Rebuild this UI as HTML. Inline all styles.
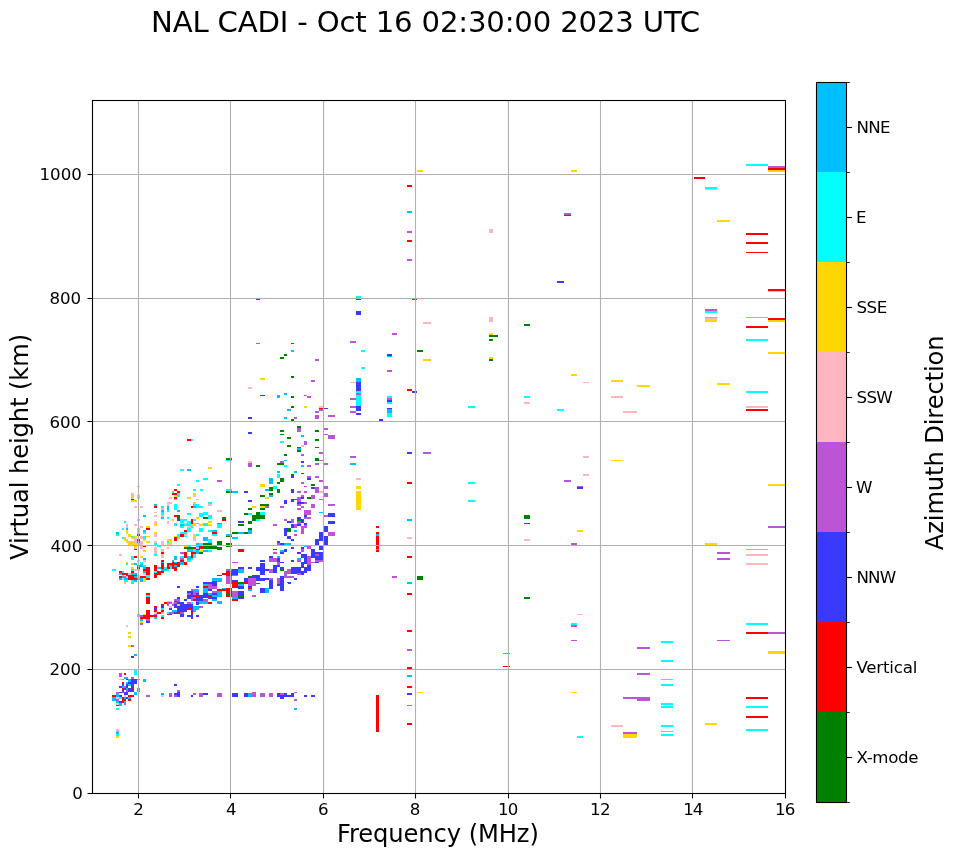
<!DOCTYPE html>
<html lang="en"><head><meta charset="utf-8"><title>NAL CADI - Oct 16 02:30:00 2023 UTC</title>
<style>html,body{margin:0;padding:0;background:#fff;overflow:hidden}svg{display:block}.g{fill:#008000}.r{fill:#ff0000}.b{fill:#3a3aff}.m{fill:#ba55d3}.p{fill:#ffb6c1}.y{fill:#ffd700}.c{fill:#00ffff}.d{fill:#00bfff}text{font-family:"DejaVu Sans","Liberation Sans",sans-serif;fill:#000}</style></head><body>
<svg width="958" height="857" viewBox="0 0 958 857">
<rect width="958" height="857" fill="#fff"/>
<g shape-rendering="crispEdges">
<rect class="c" x="746" y="164" width="22" height="2"/>
<rect class="r" x="746" y="233" width="22" height="2"/>
<rect class="r" x="746" y="242" width="22" height="2"/>
<rect class="r" x="746" y="252" width="22" height="1"/>
<rect class="c" x="746" y="317" width="22" height="1"/>
<rect class="r" x="746" y="326" width="22" height="2"/>
<rect class="c" x="746" y="339" width="22" height="2"/>
<rect class="c" x="746" y="391" width="22" height="2"/>
<rect class="p" x="746" y="406" width="22" height="2"/>
<rect class="r" x="746" y="409" width="22" height="2"/>
<rect class="c" x="746" y="549" width="22" height="1"/>
<rect class="p" x="746" y="554" width="22" height="2"/>
<rect class="p" x="746" y="563" width="22" height="2"/>
<rect class="c" x="746" y="623" width="22" height="2"/>
<rect class="r" x="746" y="632" width="22" height="2"/>
<rect class="r" x="746" y="697" width="22" height="2"/>
<rect class="c" x="746" y="706" width="22" height="2"/>
<rect class="r" x="746" y="716" width="22" height="2"/>
<rect class="c" x="746" y="729" width="22" height="2"/>
<rect class="m" x="768" y="166" width="18" height="2"/>
<rect class="r" x="768" y="168" width="18" height="2"/>
<rect class="y" x="768" y="170" width="18" height="2"/>
<rect class="r" x="768" y="289" width="18" height="2"/>
<rect class="y" x="768" y="291" width="18" height="1"/>
<rect class="r" x="768" y="318" width="18" height="2"/>
<rect class="y" x="768" y="320" width="18" height="2"/>
<rect class="y" x="768" y="352" width="18" height="2"/>
<rect class="y" x="768" y="484" width="18" height="2"/>
<rect class="m" x="768" y="526" width="18" height="2"/>
<rect class="m" x="768" y="632" width="18" height="2"/>
<rect class="y" x="768" y="651" width="18" height="3"/>
<rect class="r" x="694" y="177" width="11" height="2"/>
<rect class="c" x="705" y="187" width="12" height="2"/>
<rect class="p" x="705" y="189" width="12" height="1"/>
<rect class="m" x="705" y="309" width="12" height="2"/>
<rect class="c" x="705" y="311" width="12" height="2"/>
<rect class="c" x="705" y="317" width="12" height="1"/>
<rect class="p" x="705" y="318" width="12" height="2"/>
<rect class="y" x="705" y="320" width="12" height="2"/>
<rect class="y" x="705" y="543" width="12" height="2"/>
<rect class="y" x="705" y="723" width="12" height="2"/>
<rect class="y" x="717" y="220" width="13" height="2"/>
<rect class="y" x="717" y="383" width="13" height="2"/>
<rect class="m" x="717" y="552" width="13" height="2"/>
<rect class="m" x="717" y="558" width="13" height="2"/>
<rect class="m" x="717" y="640" width="13" height="1"/>
<rect class="y" x="637" y="385" width="13" height="2"/>
<rect class="m" x="637" y="647" width="13" height="2"/>
<rect class="m" x="637" y="673" width="13" height="2"/>
<rect class="m" x="637" y="697" width="13" height="4"/>
<rect class="c" x="661" y="641" width="12" height="2"/>
<rect class="c" x="661" y="660" width="12" height="2"/>
<rect class="c" x="661" y="679" width="12" height="1"/>
<rect class="c" x="661" y="684" width="12" height="2"/>
<rect class="c" x="661" y="703" width="12" height="2"/>
<rect class="c" x="661" y="706" width="12" height="2"/>
<rect class="c" x="661" y="725" width="12" height="2"/>
<rect class="c" x="661" y="731" width="12" height="1"/>
<rect class="c" x="661" y="734" width="12" height="2"/>
<rect class="y" x="571" y="170" width="6" height="2"/>
<rect class="y" x="571" y="374" width="6" height="2"/>
<rect class="m" x="571" y="543" width="6" height="2"/>
<rect class="c" x="571" y="623" width="6" height="2"/>
<rect class="m" x="571" y="625" width="6" height="2"/>
<rect class="m" x="571" y="640" width="6" height="1"/>
<rect class="y" x="571" y="692" width="6" height="1"/>
<rect class="m" x="564" y="213" width="7" height="2"/>
<rect class="r" x="564" y="215" width="7" height="1"/>
<rect class="m" x="564" y="480" width="7" height="2"/>
<rect class="b" x="557" y="281" width="7" height="2"/>
<rect class="c" x="557" y="409" width="7" height="2"/>
<rect class="g" x="524" y="324" width="6" height="2"/>
<rect class="c" x="524" y="396" width="6" height="2"/>
<rect class="p" x="524" y="402" width="6" height="2"/>
<rect class="g" x="524" y="515" width="6" height="4"/>
<rect class="g" x="524" y="523" width="6" height="1"/>
<rect class="p" x="524" y="539" width="6" height="2"/>
<rect class="g" x="524" y="597" width="6" height="2"/>
<rect class="p" x="583" y="382" width="6" height="1"/>
<rect class="p" x="583" y="456" width="6" height="2"/>
<rect class="p" x="583" y="474" width="6" height="2"/>
<rect class="y" x="611" y="380" width="12" height="2"/>
<rect class="p" x="611" y="396" width="12" height="2"/>
<rect class="y" x="611" y="460" width="12" height="1"/>
<rect class="p" x="611" y="725" width="12" height="2"/>
<rect class="p" x="623" y="411" width="14" height="2"/>
<rect class="m" x="623" y="697" width="14" height="2"/>
<rect class="m" x="623" y="732" width="14" height="2"/>
<rect class="y" x="623" y="734" width="14" height="4"/>
<rect class="m" x="577" y="486" width="6" height="1"/>
<rect class="b" x="577" y="487" width="6" height="2"/>
<rect class="y" x="577" y="530" width="6" height="2"/>
<rect class="p" x="577" y="614" width="6" height="1"/>
<rect class="c" x="577" y="736" width="6" height="2"/>
<rect class="d" x="503" y="653" width="7" height="1"/>
<rect class="r" x="503" y="666" width="7" height="1"/>
<rect class="y" x="417" y="170" width="6" height="2"/>
<rect class="g" x="417" y="350" width="6" height="2"/>
<rect class="g" x="417" y="576" width="6" height="4"/>
<rect class="y" x="417" y="692" width="6" height="1"/>
<rect class="r" x="407" y="185" width="5" height="2"/>
<rect class="d" x="407" y="211" width="5" height="2"/>
<rect class="m" x="407" y="231" width="5" height="2"/>
<rect class="r" x="407" y="240" width="5" height="2"/>
<rect class="m" x="407" y="259" width="5" height="2"/>
<rect class="r" x="407" y="389" width="5" height="2"/>
<rect class="b" x="407" y="452" width="5" height="2"/>
<rect class="r" x="407" y="482" width="5" height="2"/>
<rect class="d" x="407" y="519" width="5" height="2"/>
<rect class="p" x="407" y="537" width="5" height="2"/>
<rect class="r" x="407" y="556" width="5" height="2"/>
<rect class="d" x="407" y="582" width="5" height="2"/>
<rect class="r" x="407" y="593" width="5" height="2"/>
<rect class="r" x="407" y="630" width="5" height="2"/>
<rect class="m" x="407" y="649" width="5" height="2"/>
<rect class="r" x="407" y="667" width="5" height="2"/>
<rect class="d" x="407" y="675" width="5" height="2"/>
<rect class="r" x="407" y="686" width="5" height="2"/>
<rect class="b" x="407" y="693" width="5" height="2"/>
<rect class="m" x="407" y="705" width="5" height="1"/>
<rect class="r" x="407" y="723" width="5" height="2"/>
<rect class="p" x="489" y="229" width="4" height="4"/>
<rect class="p" x="489" y="317" width="4" height="5"/>
<rect class="y" x="489" y="333" width="4" height="2"/>
<rect class="g" x="489" y="339" width="4" height="2"/>
<rect class="y" x="489" y="357" width="4" height="2"/>
<rect class="g" x="489" y="359" width="4" height="2"/>
<rect class="g" x="489" y="335" width="9" height="2"/>
<rect class="r" x="412" y="299" width="5" height="1"/>
<rect class="b" x="412" y="391" width="5" height="2"/>
<rect class="p" x="423" y="322" width="8" height="2"/>
<rect class="y" x="423" y="359" width="8" height="2"/>
<rect class="m" x="423" y="452" width="8" height="2"/>
<rect class="c" x="468" y="406" width="7" height="2"/>
<rect class="c" x="468" y="482" width="7" height="2"/>
<rect class="c" x="468" y="500" width="7" height="2"/>
<rect class="m" x="392" y="333" width="5" height="2"/>
<rect class="m" x="392" y="576" width="5" height="2"/>
<rect class="b" x="387" y="354" width="5" height="2"/>
<rect class="d" x="387" y="356" width="5" height="1"/>
<rect class="m" x="387" y="370" width="5" height="2"/>
<rect class="c" x="387" y="396" width="5" height="2"/>
<rect class="m" x="387" y="398" width="5" height="2"/>
<rect class="b" x="387" y="400" width="5" height="2"/>
<rect class="c" x="387" y="402" width="5" height="2"/>
<rect class="b" x="387" y="408" width="5" height="1"/>
<rect class="d" x="387" y="409" width="5" height="4"/>
<rect class="c" x="387" y="413" width="5" height="4"/>
<rect class="c" x="361" y="350" width="4" height="2"/>
<rect class="c" x="361" y="367" width="4" height="2"/>
<rect class="b" x="379" y="419" width="4" height="2"/>
<rect class="r" x="376" y="526" width="3" height="2"/>
<rect class="r" x="376" y="532" width="3" height="2"/>
<rect class="d" x="376" y="534" width="3" height="2"/>
<rect class="r" x="376" y="536" width="3" height="13"/>
<rect class="d" x="376" y="549" width="3" height="1"/>
<rect class="r" x="376" y="550" width="3" height="2"/>
<rect class="r" x="376" y="695" width="3" height="37"/>
<rect class="c" x="356" y="296" width="5" height="2"/>
<rect class="b" x="356" y="298" width="5" height="2"/>
<rect class="b" x="356" y="311" width="5" height="4"/>
<rect class="d" x="356" y="378" width="5" height="4"/>
<rect class="b" x="356" y="382" width="5" height="9"/>
<rect class="c" x="356" y="391" width="5" height="2"/>
<rect class="m" x="356" y="393" width="5" height="2"/>
<rect class="c" x="356" y="395" width="5" height="11"/>
<rect class="b" x="356" y="406" width="5" height="5"/>
<rect class="b" x="356" y="413" width="5" height="2"/>
<rect class="p" x="356" y="478" width="5" height="2"/>
<rect class="m" x="350" y="341" width="6" height="2"/>
<rect class="p" x="350" y="382" width="6" height="1"/>
<rect class="m" x="350" y="398" width="6" height="2"/>
<rect class="m" x="350" y="406" width="6" height="2"/>
<rect class="m" x="350" y="411" width="6" height="2"/>
<rect class="m" x="350" y="456" width="6" height="2"/>
<rect class="d" x="350" y="463" width="6" height="2"/>
<rect class="m" x="328" y="415" width="7" height="2"/>
<rect class="m" x="328" y="435" width="7" height="4"/>
<rect class="b" x="324" y="408" width="4" height="1"/>
<rect class="m" x="324" y="428" width="4" height="2"/>
<rect class="m" x="324" y="434" width="4" height="1"/>
<rect class="m" x="324" y="463" width="4" height="2"/>
<rect class="p" x="319" y="406" width="5" height="2"/>
<rect class="r" x="319" y="408" width="5" height="1"/>
<rect class="m" x="319" y="409" width="5" height="2"/>
<rect class="m" x="319" y="452" width="5" height="2"/>
<rect class="m" x="319" y="460" width="5" height="1"/>
<rect class="m" x="319" y="480" width="5" height="2"/>
<rect class="m" x="315" y="359" width="4" height="2"/>
<rect class="m" x="315" y="411" width="4" height="2"/>
<rect class="m" x="315" y="415" width="4" height="4"/>
<rect class="g" x="315" y="430" width="4" height="2"/>
<rect class="g" x="315" y="439" width="4" height="2"/>
<rect class="g" x="315" y="447" width="4" height="1"/>
<rect class="g" x="315" y="458" width="4" height="3"/>
<rect class="m" x="315" y="463" width="4" height="2"/>
<rect class="m" x="315" y="476" width="4" height="2"/>
<rect class="m" x="311" y="380" width="4" height="2"/>
<rect class="g" x="311" y="484" width="4" height="2"/>
<rect class="m" x="307" y="396" width="4" height="2"/>
<rect class="m" x="307" y="465" width="4" height="2"/>
<rect class="m" x="307" y="476" width="4" height="2"/>
<rect class="b" x="307" y="478" width="4" height="2"/>
<rect class="m" x="304" y="395" width="3" height="1"/>
<rect class="y" x="304" y="406" width="3" height="2"/>
<rect class="m" x="304" y="441" width="3" height="4"/>
<rect class="d" x="301" y="435" width="3" height="2"/>
<rect class="p" x="301" y="445" width="3" height="2"/>
<rect class="m" x="301" y="454" width="3" height="2"/>
<rect class="b" x="301" y="461" width="3" height="2"/>
<rect class="d" x="301" y="465" width="3" height="2"/>
<rect class="g" x="301" y="473" width="3" height="1"/>
<rect class="m" x="301" y="482" width="3" height="2"/>
<rect class="m" x="324" y="486" width="4" height="3"/>
<rect class="m" x="324" y="493" width="4" height="4"/>
<rect class="m" x="324" y="515" width="4" height="2"/>
<rect class="b" x="324" y="526" width="4" height="6"/>
<rect class="b" x="324" y="536" width="4" height="9"/>
<rect class="m" x="328" y="504" width="7" height="2"/>
<rect class="b" x="328" y="513" width="7" height="4"/>
<rect class="b" x="328" y="521" width="7" height="3"/>
<rect class="m" x="328" y="532" width="7" height="4"/>
<rect class="y" x="356" y="486" width="5" height="3"/>
<rect class="y" x="356" y="491" width="5" height="19"/>
<rect class="m" x="319" y="480" width="5" height="2"/>
<rect class="p" x="319" y="491" width="5" height="2"/>
<rect class="m" x="319" y="499" width="5" height="1"/>
<rect class="d" x="319" y="512" width="5" height="1"/>
<rect class="b" x="319" y="532" width="5" height="9"/>
<rect class="b" x="319" y="546" width="5" height="4"/>
<rect class="b" x="319" y="552" width="5" height="8"/>
<rect class="m" x="319" y="560" width="5" height="2"/>
<rect class="m" x="315" y="487" width="4" height="6"/>
<rect class="b" x="315" y="539" width="4" height="6"/>
<rect class="b" x="315" y="552" width="4" height="2"/>
<rect class="m" x="315" y="554" width="4" height="2"/>
<rect class="b" x="315" y="556" width="4" height="4"/>
<rect class="m" x="315" y="560" width="4" height="2"/>
<rect class="b" x="315" y="562" width="4" height="1"/>
<rect class="b" x="311" y="487" width="4" height="2"/>
<rect class="m" x="311" y="495" width="4" height="4"/>
<rect class="m" x="311" y="504" width="4" height="4"/>
<rect class="b" x="311" y="549" width="4" height="9"/>
<rect class="m" x="311" y="562" width="4" height="1"/>
<rect class="g" x="307" y="497" width="4" height="2"/>
<rect class="m" x="307" y="510" width="4" height="5"/>
<rect class="m" x="307" y="517" width="4" height="2"/>
<rect class="m" x="307" y="546" width="4" height="3"/>
<rect class="m" x="307" y="556" width="4" height="9"/>
<rect class="b" x="307" y="565" width="4" height="6"/>
<rect class="m" x="304" y="486" width="3" height="1"/>
<rect class="m" x="304" y="491" width="3" height="2"/>
<rect class="m" x="304" y="502" width="3" height="2"/>
<rect class="m" x="304" y="510" width="3" height="5"/>
<rect class="b" x="304" y="515" width="3" height="2"/>
<rect class="m" x="304" y="517" width="3" height="2"/>
<rect class="b" x="304" y="523" width="3" height="2"/>
<rect class="m" x="304" y="525" width="3" height="3"/>
<rect class="d" x="304" y="546" width="3" height="1"/>
<rect class="b" x="304" y="554" width="3" height="10"/>
<rect class="b" x="304" y="567" width="3" height="6"/>
<rect class="m" x="301" y="495" width="3" height="2"/>
<rect class="b" x="301" y="497" width="3" height="2"/>
<rect class="b" x="301" y="502" width="3" height="2"/>
<rect class="m" x="301" y="506" width="3" height="2"/>
<rect class="b" x="301" y="519" width="3" height="4"/>
<rect class="m" x="301" y="526" width="3" height="8"/>
<rect class="b" x="301" y="547" width="3" height="2"/>
<rect class="m" x="301" y="549" width="3" height="3"/>
<rect class="b" x="301" y="554" width="3" height="4"/>
<rect class="b" x="301" y="562" width="3" height="6"/>
<rect class="b" x="301" y="571" width="3" height="4"/>
<rect class="m" x="217" y="480" width="5" height="2"/>
<rect class="c" x="200" y="489" width="3" height="2"/>
<rect class="c" x="226" y="489" width="6" height="2"/>
<rect class="g" x="226" y="491" width="6" height="2"/>
<rect class="d" x="232" y="491" width="6" height="2"/>
<rect class="b" x="244" y="491" width="4" height="2"/>
<rect class="y" x="260" y="484" width="5" height="3"/>
<rect class="d" x="269" y="480" width="4" height="4"/>
<rect class="g" x="277" y="482" width="3" height="2"/>
<rect class="g" x="280" y="480" width="4" height="2"/>
<rect class="d" x="265" y="489" width="4" height="2"/>
<rect class="g" x="269" y="487" width="4" height="4"/>
<rect class="c" x="273" y="486" width="4" height="3"/>
<rect class="g" x="277" y="489" width="3" height="4"/>
<rect class="g" x="269" y="493" width="4" height="2"/>
<rect class="d" x="269" y="495" width="4" height="2"/>
<rect class="g" x="260" y="495" width="5" height="2"/>
<rect class="y" x="265" y="497" width="4" height="2"/>
<rect class="b" x="291" y="489" width="3" height="4"/>
<rect class="m" x="297" y="491" width="4" height="2"/>
<rect class="m" x="297" y="497" width="4" height="5"/>
<rect class="g" x="291" y="499" width="3" height="1"/>
<rect class="b" x="291" y="500" width="3" height="2"/>
<rect class="b" x="294" y="499" width="3" height="1"/>
<rect class="b" x="248" y="500" width="4" height="2"/>
<rect class="b" x="284" y="500" width="3" height="4"/>
<rect class="b" x="297" y="502" width="4" height="2"/>
<rect class="m" x="297" y="504" width="4" height="2"/>
<rect class="m" x="280" y="506" width="4" height="2"/>
<rect class="m" x="297" y="508" width="4" height="2"/>
<rect class="c" x="208" y="502" width="4" height="2"/>
<rect class="p" x="208" y="504" width="4" height="2"/>
<rect class="c" x="200" y="506" width="3" height="2"/>
<rect class="p" x="217" y="510" width="5" height="2"/>
<rect class="g" x="260" y="504" width="9" height="2"/>
<rect class="y" x="260" y="506" width="5" height="2"/>
<rect class="m" x="265" y="506" width="4" height="2"/>
<rect class="g" x="260" y="508" width="5" height="2"/>
<rect class="y" x="252" y="506" width="4" height="2"/>
<rect class="g" x="248" y="508" width="4" height="2"/>
<rect class="c" x="203" y="512" width="5" height="3"/>
<rect class="c" x="200" y="513" width="3" height="4"/>
<rect class="c" x="208" y="515" width="4" height="4"/>
<rect class="g" x="203" y="517" width="5" height="2"/>
<rect class="g" x="222" y="517" width="4" height="2"/>
<rect class="r" x="222" y="519" width="4" height="2"/>
<rect class="g" x="244" y="513" width="4" height="2"/>
<rect class="c" x="248" y="513" width="4" height="2"/>
<rect class="g" x="256" y="512" width="4" height="7"/>
<rect class="g" x="252" y="515" width="13" height="4"/>
<rect class="g" x="252" y="519" width="4" height="2"/>
<rect class="c" x="260" y="512" width="5" height="3"/>
<rect class="c" x="256" y="519" width="4" height="2"/>
<rect class="g" x="248" y="521" width="4" height="3"/>
<rect class="b" x="238" y="521" width="6" height="2"/>
<rect class="g" x="238" y="524" width="6" height="2"/>
<rect class="b" x="297" y="517" width="4" height="2"/>
<rect class="g" x="297" y="519" width="4" height="2"/>
<rect class="m" x="291" y="519" width="3" height="4"/>
<rect class="m" x="284" y="519" width="3" height="2"/>
<rect class="b" x="287" y="521" width="4" height="2"/>
<rect class="m" x="297" y="521" width="4" height="3"/>
<rect class="b" x="297" y="524" width="4" height="2"/>
<rect class="m" x="273" y="524" width="4" height="2"/>
<rect class="b" x="291" y="524" width="3" height="4"/>
<rect class="m" x="294" y="524" width="3" height="4"/>
<rect class="g" x="287" y="528" width="4" height="4"/>
<rect class="b" x="284" y="528" width="3" height="8"/>
<rect class="d" x="294" y="530" width="3" height="2"/>
<rect class="m" x="294" y="534" width="3" height="2"/>
<rect class="b" x="287" y="536" width="4" height="3"/>
<rect class="b" x="291" y="539" width="3" height="2"/>
<rect class="b" x="277" y="541" width="3" height="2"/>
<rect class="m" x="277" y="543" width="3" height="2"/>
<rect class="b" x="280" y="543" width="4" height="2"/>
<rect class="d" x="284" y="543" width="7" height="2"/>
<rect class="y" x="208" y="521" width="4" height="2"/>
<rect class="y" x="200" y="524" width="3" height="2"/>
<rect class="c" x="203" y="523" width="5" height="3"/>
<rect class="y" x="208" y="524" width="4" height="2"/>
<rect class="m" x="217" y="523" width="5" height="1"/>
<rect class="c" x="217" y="524" width="5" height="4"/>
<rect class="c" x="200" y="528" width="3" height="4"/>
<rect class="c" x="208" y="530" width="4" height="2"/>
<rect class="d" x="212" y="530" width="5" height="2"/>
<rect class="r" x="212" y="532" width="5" height="2"/>
<rect class="c" x="212" y="534" width="5" height="2"/>
<rect class="g" x="248" y="528" width="4" height="2"/>
<rect class="d" x="248" y="530" width="4" height="4"/>
<rect class="g" x="232" y="532" width="6" height="2"/>
<rect class="d" x="238" y="532" width="6" height="2"/>
<rect class="g" x="244" y="532" width="4" height="2"/>
<rect class="d" x="226" y="534" width="6" height="2"/>
<rect class="g" x="226" y="536" width="6" height="1"/>
<rect class="d" x="232" y="537" width="6" height="2"/>
<rect class="d" x="203" y="537" width="5" height="4"/>
<rect class="c" x="208" y="539" width="4" height="4"/>
<rect class="g" x="217" y="541" width="5" height="4"/>
<rect class="g" x="203" y="543" width="9" height="2"/>
<rect class="c" x="200" y="543" width="3" height="2"/>
<rect class="g" x="226" y="543" width="6" height="4"/>
<rect class="r" x="200" y="546" width="3" height="3"/>
<rect class="g" x="203" y="546" width="14" height="3"/>
<rect class="g" x="217" y="547" width="5" height="3"/>
<rect class="y" x="200" y="550" width="3" height="2"/>
<rect class="d" x="203" y="550" width="5" height="2"/>
<rect class="c" x="208" y="550" width="4" height="2"/>
<rect class="g" x="200" y="552" width="3" height="2"/>
<rect class="r" x="238" y="549" width="6" height="3"/>
<rect class="m" x="232" y="562" width="6" height="1"/>
<rect class="b" x="273" y="549" width="4" height="1"/>
<rect class="m" x="273" y="552" width="4" height="2"/>
<rect class="d" x="280" y="550" width="4" height="2"/>
<rect class="b" x="284" y="549" width="3" height="3"/>
<rect class="b" x="280" y="552" width="4" height="2"/>
<rect class="b" x="291" y="547" width="3" height="2"/>
<rect class="b" x="297" y="552" width="4" height="2"/>
<rect class="d" x="297" y="558" width="4" height="2"/>
<rect class="m" x="297" y="560" width="4" height="2"/>
<rect class="b" x="269" y="556" width="4" height="2"/>
<rect class="d" x="277" y="556" width="3" height="2"/>
<rect class="m" x="269" y="558" width="8" height="4"/>
<rect class="b" x="277" y="558" width="3" height="4"/>
<rect class="m" x="277" y="562" width="3" height="3"/>
<rect class="b" x="280" y="562" width="4" height="1"/>
<rect class="b" x="260" y="560" width="5" height="2"/>
<rect class="b" x="291" y="560" width="3" height="2"/>
<rect class="b" x="260" y="563" width="5" height="12"/>
<rect class="b" x="256" y="567" width="4" height="4"/>
<rect class="b" x="265" y="569" width="4" height="2"/>
<rect class="b" x="273" y="565" width="4" height="8"/>
<rect class="m" x="269" y="569" width="4" height="4"/>
<rect class="b" x="277" y="565" width="3" height="2"/>
<rect class="b" x="280" y="567" width="4" height="2"/>
<rect class="g" x="280" y="569" width="4" height="2"/>
<rect class="b" x="291" y="567" width="10" height="7"/>
<rect class="m" x="287" y="569" width="4" height="5"/>
<rect class="m" x="284" y="571" width="3" height="7"/>
<rect class="m" x="287" y="576" width="7" height="2"/>
<rect class="m" x="297" y="573" width="4" height="2"/>
<rect class="b" x="238" y="567" width="6" height="2"/>
<rect class="d" x="238" y="569" width="6" height="4"/>
<rect class="b" x="248" y="567" width="4" height="2"/>
<rect class="m" x="226" y="569" width="6" height="2"/>
<rect class="r" x="226" y="571" width="6" height="5"/>
<rect class="r" x="222" y="573" width="4" height="2"/>
<rect class="r" x="217" y="575" width="5" height="1"/>
<rect class="b" x="232" y="569" width="6" height="6"/>
<rect class="m" x="232" y="575" width="6" height="1"/>
<rect class="m" x="226" y="576" width="6" height="7"/>
<rect class="g" x="248" y="576" width="4" height="2"/>
<rect class="b" x="252" y="575" width="8" height="5"/>
<rect class="b" x="244" y="578" width="4" height="4"/>
<rect class="m" x="248" y="578" width="8" height="5"/>
<rect class="b" x="256" y="578" width="9" height="3"/>
<rect class="b" x="265" y="578" width="4" height="2"/>
<rect class="b" x="232" y="580" width="6" height="2"/>
<rect class="r" x="232" y="582" width="6" height="1"/>
<rect class="g" x="238" y="582" width="6" height="1"/>
<rect class="r" x="244" y="582" width="4" height="1"/>
<rect class="b" x="269" y="580" width="4" height="3"/>
<rect class="m" x="269" y="578" width="4" height="2"/>
<rect class="b" x="280" y="576" width="4" height="7"/>
<rect class="m" x="277" y="578" width="3" height="5"/>
<rect class="b" x="287" y="582" width="4" height="1"/>
<rect class="b" x="294" y="578" width="3" height="2"/>
<rect class="d" x="212" y="578" width="10" height="4"/>
<rect class="b" x="212" y="581" width="5" height="2"/>
<rect class="b" x="203" y="582" width="9" height="1"/>
<rect class="p" x="248" y="387" width="4" height="2"/>
<rect class="r" x="260" y="395" width="5" height="1"/>
<rect class="d" x="277" y="395" width="3" height="3"/>
<rect class="d" x="284" y="393" width="3" height="2"/>
<rect class="g" x="291" y="396" width="3" height="2"/>
<rect class="g" x="291" y="406" width="3" height="2"/>
<rect class="d" x="287" y="409" width="4" height="2"/>
<rect class="b" x="248" y="417" width="4" height="2"/>
<rect class="d" x="284" y="417" width="3" height="2"/>
<rect class="m" x="294" y="417" width="3" height="2"/>
<rect class="g" x="291" y="419" width="3" height="2"/>
<rect class="g" x="297" y="426" width="4" height="2"/>
<rect class="m" x="297" y="428" width="4" height="4"/>
<rect class="g" x="280" y="430" width="4" height="2"/>
<rect class="g" x="280" y="434" width="4" height="1"/>
<rect class="b" x="248" y="432" width="4" height="2"/>
<rect class="g" x="287" y="437" width="4" height="2"/>
<rect class="c" x="280" y="441" width="4" height="2"/>
<rect class="g" x="287" y="445" width="4" height="2"/>
<rect class="b" x="297" y="447" width="4" height="1"/>
<rect class="d" x="297" y="448" width="4" height="2"/>
<rect class="g" x="297" y="450" width="4" height="2"/>
<rect class="g" x="284" y="454" width="3" height="2"/>
<rect class="g" x="226" y="458" width="6" height="2"/>
<rect class="c" x="226" y="460" width="6" height="1"/>
<rect class="d" x="284" y="460" width="3" height="1"/>
<rect class="p" x="248" y="461" width="4" height="2"/>
<rect class="m" x="248" y="463" width="4" height="4"/>
<rect class="m" x="280" y="461" width="4" height="2"/>
<rect class="g" x="277" y="463" width="7" height="2"/>
<rect class="c" x="284" y="465" width="3" height="2"/>
<rect class="g" x="256" y="465" width="4" height="2"/>
<rect class="y" x="208" y="467" width="4" height="2"/>
<rect class="d" x="277" y="471" width="3" height="2"/>
<rect class="c" x="277" y="474" width="3" height="4"/>
<rect class="d" x="294" y="471" width="3" height="2"/>
<rect class="g" x="291" y="474" width="3" height="2"/>
<rect class="b" x="291" y="476" width="3" height="2"/>
<rect class="c" x="203" y="478" width="5" height="2"/>
<rect class="d" x="269" y="478" width="4" height="2"/>
<rect class="g" x="280" y="478" width="4" height="2"/>
<rect class="g" x="256" y="299" width="4" height="1"/>
<rect class="m" x="256" y="343" width="4" height="1"/>
<rect class="g" x="291" y="343" width="3" height="1"/>
<rect class="d" x="291" y="350" width="3" height="2"/>
<rect class="g" x="284" y="354" width="3" height="2"/>
<rect class="g" x="280" y="357" width="4" height="2"/>
<rect class="y" x="260" y="378" width="5" height="2"/>
<rect class="g" x="291" y="376" width="3" height="2"/>
<rect class="b" x="203" y="583" width="9" height="1"/>
<rect class="b" x="212" y="583" width="5" height="3"/>
<rect class="m" x="226" y="583" width="6" height="1"/>
<rect class="r" x="232" y="583" width="6" height="5"/>
<rect class="g" x="238" y="583" width="6" height="1"/>
<rect class="d" x="238" y="584" width="6" height="2"/>
<rect class="b" x="238" y="586" width="6" height="3"/>
<rect class="r" x="244" y="583" width="4" height="1"/>
<rect class="m" x="248" y="583" width="4" height="3"/>
<rect class="m" x="252" y="583" width="4" height="3"/>
<rect class="b" x="248" y="586" width="4" height="2"/>
<rect class="r" x="248" y="588" width="4" height="1"/>
<rect class="d" x="248" y="589" width="4" height="2"/>
<rect class="b" x="256" y="583" width="4" height="1"/>
<rect class="b" x="269" y="583" width="4" height="6"/>
<rect class="b" x="260" y="588" width="5" height="5"/>
<rect class="d" x="265" y="588" width="4" height="5"/>
<rect class="m" x="277" y="583" width="3" height="1"/>
<rect class="b" x="277" y="584" width="3" height="2"/>
<rect class="b" x="280" y="583" width="4" height="8"/>
<rect class="b" x="288" y="583" width="3" height="1"/>
<rect class="d" x="203" y="584" width="5" height="2"/>
<rect class="m" x="208" y="584" width="4" height="5"/>
<rect class="r" x="203" y="586" width="5" height="2"/>
<rect class="m" x="212" y="586" width="5" height="3"/>
<rect class="d" x="203" y="588" width="5" height="5"/>
<rect class="r" x="217" y="589" width="9" height="2"/>
<rect class="d" x="222" y="588" width="4" height="1"/>
<rect class="r" x="226" y="588" width="6" height="5"/>
<rect class="b" x="208" y="589" width="4" height="2"/>
<rect class="m" x="212" y="591" width="5" height="2"/>
<rect class="d" x="217" y="591" width="5" height="6"/>
<rect class="g" x="226" y="593" width="6" height="2"/>
<rect class="r" x="226" y="595" width="6" height="2"/>
<rect class="m" x="232" y="591" width="6" height="6"/>
<rect class="b" x="238" y="591" width="6" height="4"/>
<rect class="g" x="238" y="595" width="6" height="2"/>
<rect class="b" x="238" y="597" width="6" height="2"/>
<rect class="d" x="232" y="597" width="6" height="2"/>
<rect class="r" x="232" y="599" width="6" height="2"/>
<rect class="m" x="252" y="595" width="4" height="2"/>
<rect class="b" x="203" y="593" width="5" height="2"/>
<rect class="d" x="208" y="593" width="4" height="2"/>
<rect class="b" x="212" y="593" width="5" height="2"/>
<rect class="b" x="200" y="595" width="8" height="3"/>
<rect class="b" x="200" y="598" width="3" height="3"/>
<rect class="r" x="208" y="595" width="4" height="2"/>
<rect class="d" x="212" y="595" width="5" height="2"/>
<rect class="b" x="208" y="597" width="9" height="2"/>
<rect class="m" x="203" y="599" width="5" height="2"/>
<rect class="d" x="212" y="599" width="5" height="2"/>
<rect class="d" x="200" y="601" width="8" height="3"/>
<rect class="r" x="208" y="602" width="4" height="2"/>
<rect class="d" x="217" y="601" width="5" height="3"/>
<rect class="m" x="200" y="606" width="3" height="2"/>
<rect class="p" x="137" y="486" width="3" height="1"/>
<rect class="p" x="131" y="493" width="3" height="2"/>
<rect class="y" x="131" y="495" width="3" height="2"/>
<rect class="p" x="131" y="497" width="3" height="2"/>
<rect class="r" x="131" y="499" width="3" height="1"/>
<rect class="y" x="131" y="500" width="6" height="2"/>
<rect class="p" x="137" y="495" width="3" height="2"/>
<rect class="y" x="137" y="497" width="3" height="2"/>
<rect class="p" x="169" y="497" width="1" height="2"/>
<rect class="p" x="167" y="502" width="3" height="2"/>
<rect class="p" x="167" y="504" width="2" height="2"/>
<rect class="d" x="167" y="506" width="2" height="4"/>
<rect class="c" x="167" y="510" width="2" height="2"/>
<rect class="d" x="154" y="504" width="3" height="2"/>
<rect class="r" x="154" y="506" width="3" height="2"/>
<rect class="p" x="134" y="506" width="3" height="2"/>
<rect class="p" x="140" y="506" width="3" height="2"/>
<rect class="c" x="161" y="506" width="3" height="2"/>
<rect class="p" x="161" y="508" width="3" height="2"/>
<rect class="d" x="161" y="510" width="3" height="2"/>
<rect class="c" x="161" y="512" width="3" height="3"/>
<rect class="p" x="161" y="515" width="3" height="2"/>
<rect class="d" x="161" y="517" width="3" height="2"/>
<rect class="p" x="154" y="512" width="3" height="1"/>
<rect class="d" x="143" y="515" width="3" height="2"/>
<rect class="p" x="154" y="515" width="3" height="2"/>
<rect class="c" x="167" y="517" width="2" height="2"/>
<rect class="y" x="137" y="519" width="3" height="2"/>
<rect class="c" x="124" y="521" width="2" height="2"/>
<rect class="p" x="154" y="521" width="3" height="3"/>
<rect class="y" x="154" y="524" width="3" height="2"/>
<rect class="p" x="167" y="521" width="2" height="3"/>
<rect class="p" x="126" y="524" width="2" height="4"/>
<rect class="d" x="126" y="528" width="2" height="2"/>
<rect class="y" x="126" y="530" width="2" height="4"/>
<rect class="p" x="134" y="524" width="3" height="2"/>
<rect class="p" x="140" y="526" width="3" height="2"/>
<rect class="y" x="146" y="526" width="4" height="2"/>
<rect class="r" x="146" y="528" width="4" height="2"/>
<rect class="c" x="122" y="528" width="2" height="2"/>
<rect class="y" x="137" y="528" width="3" height="6"/>
<rect class="d" x="143" y="530" width="3" height="2"/>
<rect class="c" x="143" y="532" width="3" height="2"/>
<rect class="d" x="116" y="532" width="3" height="2"/>
<rect class="y" x="154" y="532" width="3" height="2"/>
<rect class="c" x="196" y="480" width="3" height="2"/>
<rect class="c" x="177" y="484" width="3" height="2"/>
<rect class="r" x="174" y="489" width="3" height="2"/>
<rect class="c" x="172" y="491" width="2" height="2"/>
<rect class="r" x="177" y="491" width="3" height="2"/>
<rect class="r" x="172" y="493" width="5" height="2"/>
<rect class="c" x="177" y="493" width="3" height="4"/>
<rect class="y" x="174" y="495" width="3" height="2"/>
<rect class="r" x="174" y="497" width="3" height="2"/>
<rect class="c" x="174" y="499" width="3" height="1"/>
<rect class="p" x="170" y="497" width="2" height="2"/>
<rect class="p" x="170" y="502" width="2" height="2"/>
<rect class="c" x="193" y="489" width="3" height="2"/>
<rect class="y" x="193" y="493" width="3" height="2"/>
<rect class="p" x="193" y="495" width="3" height="2"/>
<rect class="y" x="187" y="497" width="4" height="2"/>
<rect class="p" x="196" y="499" width="3" height="1"/>
<rect class="y" x="193" y="502" width="3" height="2"/>
<rect class="c" x="193" y="504" width="6" height="2"/>
<rect class="r" x="191" y="506" width="2" height="2"/>
<rect class="d" x="193" y="506" width="3" height="2"/>
<rect class="c" x="196" y="506" width="4" height="2"/>
<rect class="c" x="174" y="504" width="3" height="6"/>
<rect class="d" x="177" y="510" width="3" height="2"/>
<rect class="c" x="187" y="513" width="4" height="2"/>
<rect class="r" x="174" y="515" width="3" height="2"/>
<rect class="g" x="177" y="515" width="3" height="4"/>
<rect class="b" x="177" y="519" width="3" height="2"/>
<rect class="y" x="172" y="519" width="2" height="2"/>
<rect class="c" x="180" y="519" width="7" height="2"/>
<rect class="c" x="180" y="521" width="4" height="2"/>
<rect class="y" x="180" y="523" width="4" height="1"/>
<rect class="p" x="184" y="523" width="3" height="1"/>
<rect class="d" x="180" y="524" width="4" height="2"/>
<rect class="c" x="184" y="524" width="7" height="2"/>
<rect class="c" x="187" y="521" width="4" height="3"/>
<rect class="r" x="191" y="519" width="2" height="5"/>
<rect class="c" x="193" y="519" width="3" height="2"/>
<rect class="p" x="193" y="523" width="3" height="1"/>
<rect class="c" x="196" y="523" width="3" height="1"/>
<rect class="y" x="191" y="524" width="5" height="2"/>
<rect class="y" x="196" y="517" width="3" height="2"/>
<rect class="c" x="199" y="513" width="1" height="4"/>
<rect class="c" x="174" y="523" width="3" height="3"/>
<rect class="c" x="180" y="526" width="4" height="2"/>
<rect class="p" x="187" y="526" width="4" height="2"/>
<rect class="c" x="191" y="526" width="2" height="2"/>
<rect class="c" x="187" y="528" width="4" height="4"/>
<rect class="r" x="184" y="530" width="3" height="2"/>
<rect class="c" x="180" y="532" width="7" height="2"/>
<rect class="c" x="199" y="528" width="1" height="4"/>
<rect class="y" x="199" y="524" width="1" height="2"/>
<rect class="c" x="116" y="534" width="3" height="2"/>
<rect class="y" x="128" y="534" width="3" height="3"/>
<rect class="c" x="131" y="536" width="3" height="1"/>
<rect class="y" x="134" y="536" width="3" height="1"/>
<rect class="r" x="137" y="534" width="3" height="2"/>
<rect class="y" x="131" y="537" width="3" height="2"/>
<rect class="p" x="134" y="537" width="3" height="6"/>
<rect class="c" x="122" y="537" width="2" height="2"/>
<rect class="y" x="124" y="537" width="2" height="4"/>
<rect class="y" x="126" y="539" width="2" height="2"/>
<rect class="p" x="126" y="541" width="2" height="2"/>
<rect class="y" x="128" y="541" width="6" height="4"/>
<rect class="y" x="134" y="543" width="3" height="2"/>
<rect class="p" x="140" y="536" width="3" height="3"/>
<rect class="c" x="143" y="536" width="3" height="3"/>
<rect class="y" x="146" y="536" width="4" height="1"/>
<rect class="r" x="137" y="539" width="3" height="2"/>
<rect class="m" x="137" y="541" width="3" height="2"/>
<rect class="p" x="137" y="543" width="3" height="2"/>
<rect class="y" x="143" y="539" width="3" height="2"/>
<rect class="p" x="140" y="541" width="3" height="4"/>
<rect class="y" x="146" y="541" width="4" height="2"/>
<rect class="p" x="154" y="534" width="3" height="3"/>
<rect class="p" x="154" y="541" width="3" height="2"/>
<rect class="c" x="154" y="543" width="3" height="2"/>
<rect class="p" x="161" y="541" width="3" height="4"/>
<rect class="y" x="167" y="539" width="3" height="2"/>
<rect class="c" x="167" y="541" width="2" height="2"/>
<rect class="y" x="167" y="543" width="2" height="2"/>
<rect class="p" x="169" y="543" width="1" height="2"/>
<rect class="y" x="134" y="546" width="3" height="1"/>
<rect class="p" x="134" y="547" width="3" height="2"/>
<rect class="r" x="134" y="549" width="3" height="1"/>
<rect class="p" x="140" y="546" width="3" height="3"/>
<rect class="r" x="143" y="546" width="3" height="1"/>
<rect class="c" x="157" y="546" width="4" height="1"/>
<rect class="p" x="154" y="547" width="3" height="7"/>
<rect class="c" x="154" y="554" width="3" height="2"/>
<rect class="p" x="167" y="547" width="2" height="2"/>
<rect class="y" x="143" y="550" width="3" height="2"/>
<rect class="p" x="161" y="549" width="3" height="3"/>
<rect class="r" x="161" y="552" width="3" height="2"/>
<rect class="p" x="161" y="554" width="3" height="4"/>
<rect class="p" x="119" y="554" width="3" height="2"/>
<rect class="c" x="131" y="556" width="3" height="4"/>
<rect class="r" x="134" y="556" width="3" height="2"/>
<rect class="y" x="140" y="556" width="3" height="2"/>
<rect class="d" x="143" y="558" width="3" height="2"/>
<rect class="p" x="137" y="560" width="3" height="2"/>
<rect class="p" x="143" y="560" width="3" height="2"/>
<rect class="r" x="161" y="560" width="3" height="2"/>
<rect class="d" x="161" y="562" width="3" height="1"/>
<rect class="r" x="161" y="563" width="3" height="6"/>
<rect class="y" x="126" y="562" width="2" height="1"/>
<rect class="c" x="126" y="563" width="2" height="2"/>
<rect class="y" x="131" y="563" width="3" height="2"/>
<rect class="d" x="134" y="563" width="3" height="2"/>
<rect class="c" x="140" y="562" width="3" height="2"/>
<rect class="d" x="140" y="564" width="3" height="3"/>
<rect class="m" x="137" y="565" width="3" height="2"/>
<rect class="r" x="137" y="567" width="3" height="2"/>
<rect class="y" x="137" y="569" width="3" height="2"/>
<rect class="c" x="143" y="565" width="3" height="2"/>
<rect class="d" x="143" y="567" width="3" height="2"/>
<rect class="y" x="131" y="567" width="3" height="2"/>
<rect class="c" x="131" y="569" width="3" height="2"/>
<rect class="p" x="134" y="569" width="3" height="2"/>
<rect class="r" x="146" y="567" width="4" height="8"/>
<rect class="r" x="143" y="569" width="3" height="2"/>
<rect class="d" x="143" y="571" width="3" height="2"/>
<rect class="p" x="143" y="573" width="3" height="2"/>
<rect class="c" x="112" y="569" width="4" height="2"/>
<rect class="r" x="119" y="571" width="3" height="2"/>
<rect class="c" x="122" y="571" width="2" height="2"/>
<rect class="r" x="131" y="571" width="3" height="2"/>
<rect class="d" x="119" y="573" width="3" height="2"/>
<rect class="r" x="122" y="573" width="6" height="2"/>
<rect class="p" x="128" y="573" width="3" height="2"/>
<rect class="d" x="131" y="573" width="6" height="2"/>
<rect class="c" x="122" y="575" width="2" height="1"/>
<rect class="b" x="126" y="575" width="2" height="1"/>
<rect class="r" x="119" y="576" width="3" height="2"/>
<rect class="d" x="122" y="576" width="2" height="2"/>
<rect class="m" x="124" y="576" width="2" height="2"/>
<rect class="p" x="126" y="576" width="2" height="2"/>
<rect class="r" x="128" y="575" width="9" height="5"/>
<rect class="d" x="134" y="576" width="3" height="2"/>
<rect class="d" x="119" y="578" width="3" height="2"/>
<rect class="p" x="122" y="578" width="2" height="2"/>
<rect class="d" x="124" y="578" width="4" height="2"/>
<rect class="p" x="137" y="575" width="3" height="3"/>
<rect class="r" x="140" y="576" width="6" height="2"/>
<rect class="c" x="146" y="575" width="4" height="3"/>
<rect class="d" x="137" y="578" width="6" height="2"/>
<rect class="d" x="140" y="580" width="3" height="2"/>
<rect class="y" x="143" y="578" width="3" height="4"/>
<rect class="r" x="146" y="578" width="4" height="2"/>
<rect class="c" x="124" y="580" width="4" height="2"/>
<rect class="c" x="131" y="580" width="3" height="4"/>
<rect class="d" x="134" y="580" width="3" height="2"/>
<rect class="p" x="124" y="582" width="2" height="2"/>
<rect class="r" x="154" y="565" width="3" height="13"/>
<rect class="c" x="154" y="571" width="3" height="2"/>
<rect class="d" x="157" y="567" width="4" height="2"/>
<rect class="r" x="157" y="571" width="7" height="2"/>
<rect class="r" x="157" y="573" width="4" height="2"/>
<rect class="d" x="161" y="569" width="6" height="2"/>
<rect class="c" x="164" y="567" width="3" height="2"/>
<rect class="c" x="167" y="569" width="2" height="2"/>
<rect class="r" x="167" y="563" width="3" height="6"/>
<rect class="d" x="169" y="565" width="1" height="2"/>
<rect class="c" x="177" y="534" width="3" height="3"/>
<rect class="y" x="174" y="536" width="3" height="1"/>
<rect class="r" x="174" y="537" width="3" height="4"/>
<rect class="y" x="177" y="537" width="3" height="2"/>
<rect class="r" x="180" y="534" width="4" height="3"/>
<rect class="p" x="184" y="534" width="3" height="2"/>
<rect class="c" x="184" y="536" width="3" height="1"/>
<rect class="y" x="170" y="539" width="2" height="4"/>
<rect class="p" x="170" y="543" width="2" height="2"/>
<rect class="p" x="193" y="534" width="3" height="2"/>
<rect class="y" x="193" y="536" width="3" height="1"/>
<rect class="p" x="193" y="537" width="3" height="4"/>
<rect class="c" x="196" y="534" width="3" height="2"/>
<rect class="d" x="196" y="543" width="3" height="2"/>
<rect class="c" x="199" y="543" width="1" height="2"/>
<rect class="y" x="184" y="546" width="3" height="1"/>
<rect class="c" x="187" y="546" width="4" height="1"/>
<rect class="g" x="184" y="547" width="9" height="2"/>
<rect class="r" x="193" y="547" width="3" height="2"/>
<rect class="p" x="196" y="547" width="3" height="2"/>
<rect class="r" x="196" y="549" width="3" height="1"/>
<rect class="d" x="196" y="546" width="3" height="1"/>
<rect class="r" x="199" y="546" width="1" height="3"/>
<rect class="g" x="199" y="549" width="1" height="1"/>
<rect class="y" x="199" y="550" width="1" height="2"/>
<rect class="g" x="199" y="552" width="1" height="2"/>
<rect class="d" x="187" y="549" width="6" height="3"/>
<rect class="c" x="193" y="549" width="3" height="3"/>
<rect class="d" x="196" y="550" width="3" height="4"/>
<rect class="m" x="180" y="552" width="4" height="2"/>
<rect class="r" x="184" y="552" width="3" height="6"/>
<rect class="r" x="191" y="552" width="5" height="2"/>
<rect class="r" x="191" y="554" width="2" height="4"/>
<rect class="c" x="193" y="554" width="3" height="4"/>
<rect class="d" x="174" y="556" width="3" height="4"/>
<rect class="c" x="180" y="556" width="4" height="2"/>
<rect class="m" x="180" y="558" width="4" height="2"/>
<rect class="r" x="180" y="560" width="4" height="2"/>
<rect class="d" x="187" y="556" width="4" height="4"/>
<rect class="c" x="191" y="558" width="2" height="2"/>
<rect class="c" x="187" y="560" width="4" height="2"/>
<rect class="d" x="172" y="560" width="2" height="2"/>
<rect class="r" x="170" y="563" width="10" height="2"/>
<rect class="r" x="172" y="562" width="2" height="1"/>
<rect class="r" x="177" y="562" width="3" height="1"/>
<rect class="d" x="174" y="562" width="3" height="1"/>
<rect class="d" x="180" y="562" width="4" height="3"/>
<rect class="r" x="184" y="562" width="3" height="3"/>
<rect class="d" x="170" y="565" width="2" height="2"/>
<rect class="r" x="172" y="565" width="2" height="4"/>
<rect class="d" x="174" y="565" width="3" height="2"/>
<rect class="r" x="177" y="565" width="3" height="2"/>
<rect class="c" x="170" y="567" width="2" height="2"/>
<rect class="r" x="174" y="567" width="3" height="4"/>
<rect class="b" x="177" y="586" width="3" height="2"/>
<rect class="b" x="196" y="586" width="3" height="2"/>
<rect class="r" x="187" y="439" width="4" height="2"/>
<rect class="c" x="191" y="439" width="2" height="2"/>
<rect class="c" x="180" y="469" width="4" height="2"/>
<rect class="d" x="187" y="469" width="4" height="2"/>
<rect class="r" x="146" y="593" width="4" height="2"/>
<rect class="c" x="146" y="595" width="4" height="2"/>
<rect class="r" x="146" y="597" width="4" height="7"/>
<rect class="m" x="191" y="589" width="2" height="2"/>
<rect class="d" x="193" y="589" width="3" height="2"/>
<rect class="b" x="187" y="591" width="4" height="2"/>
<rect class="m" x="187" y="593" width="4" height="2"/>
<rect class="b" x="187" y="595" width="4" height="4"/>
<rect class="b" x="191" y="591" width="2" height="6"/>
<rect class="m" x="193" y="591" width="3" height="4"/>
<rect class="r" x="193" y="595" width="3" height="2"/>
<rect class="m" x="191" y="597" width="5" height="2"/>
<rect class="r" x="193" y="599" width="3" height="2"/>
<rect class="m" x="191" y="599" width="2" height="2"/>
<rect class="b" x="177" y="597" width="3" height="2"/>
<rect class="m" x="174" y="599" width="6" height="2"/>
<rect class="b" x="174" y="601" width="3" height="1"/>
<rect class="m" x="177" y="601" width="3" height="1"/>
<rect class="b" x="184" y="599" width="3" height="2"/>
<rect class="r" x="164" y="602" width="3" height="2"/>
<rect class="p" x="167" y="601" width="5" height="1"/>
<rect class="m" x="167" y="602" width="5" height="2"/>
<rect class="p" x="172" y="602" width="2" height="2"/>
<rect class="m" x="174" y="602" width="3" height="2"/>
<rect class="b" x="177" y="602" width="7" height="2"/>
<rect class="m" x="187" y="602" width="4" height="2"/>
<rect class="c" x="191" y="602" width="2" height="2"/>
<rect class="r" x="161" y="604" width="3" height="2"/>
<rect class="b" x="161" y="606" width="3" height="2"/>
<rect class="c" x="161" y="608" width="3" height="2"/>
<rect class="r" x="161" y="610" width="3" height="2"/>
<rect class="p" x="161" y="612" width="3" height="2"/>
<rect class="m" x="167" y="604" width="2" height="2"/>
<rect class="m" x="172" y="604" width="2" height="2"/>
<rect class="b" x="174" y="604" width="3" height="4"/>
<rect class="b" x="180" y="604" width="13" height="4"/>
<rect class="b" x="177" y="606" width="10" height="6"/>
<rect class="y" x="177" y="604" width="3" height="2"/>
<rect class="r" x="187" y="608" width="4" height="2"/>
<rect class="b" x="191" y="608" width="2" height="4"/>
<rect class="d" x="193" y="606" width="3" height="6"/>
<rect class="p" x="169" y="606" width="3" height="2"/>
<rect class="b" x="169" y="608" width="3" height="2"/>
<rect class="d" x="172" y="610" width="5" height="2"/>
<rect class="r" x="154" y="606" width="3" height="2"/>
<rect class="b" x="154" y="608" width="3" height="2"/>
<rect class="r" x="154" y="610" width="3" height="2"/>
<rect class="p" x="154" y="612" width="3" height="2"/>
<rect class="m" x="154" y="614" width="3" height="1"/>
<rect class="r" x="157" y="612" width="4" height="2"/>
<rect class="r" x="146" y="610" width="4" height="9"/>
<rect class="y" x="143" y="614" width="3" height="1"/>
<rect class="r" x="143" y="615" width="14" height="2"/>
<rect class="r" x="140" y="617" width="10" height="2"/>
<rect class="c" x="137" y="614" width="3" height="3"/>
<rect class="m" x="140" y="615" width="3" height="2"/>
<rect class="d" x="154" y="617" width="3" height="2"/>
<rect class="c" x="161" y="615" width="3" height="2"/>
<rect class="r" x="161" y="617" width="3" height="2"/>
<rect class="c" x="167" y="612" width="2" height="2"/>
<rect class="r" x="167" y="614" width="2" height="1"/>
<rect class="m" x="169" y="612" width="5" height="2"/>
<rect class="b" x="169" y="614" width="3" height="1"/>
<rect class="b" x="174" y="612" width="3" height="2"/>
<rect class="r" x="177" y="612" width="3" height="2"/>
<rect class="m" x="180" y="612" width="4" height="2"/>
<rect class="b" x="180" y="614" width="4" height="3"/>
<rect class="r" x="191" y="612" width="2" height="2"/>
<rect class="b" x="191" y="614" width="2" height="5"/>
<rect class="b" x="187" y="615" width="4" height="2"/>
<rect class="d" x="140" y="619" width="3" height="2"/>
<rect class="y" x="140" y="621" width="3" height="2"/>
<rect class="m" x="140" y="623" width="3" height="2"/>
<rect class="m" x="146" y="619" width="4" height="2"/>
<rect class="b" x="146" y="621" width="4" height="2"/>
<rect class="p" x="126" y="625" width="2" height="2"/>
<rect class="y" x="128" y="632" width="3" height="2"/>
<rect class="y" x="128" y="636" width="3" height="2"/>
<rect class="y" x="128" y="645" width="3" height="2"/>
<rect class="m" x="131" y="645" width="3" height="2"/>
<rect class="d" x="134" y="654" width="3" height="2"/>
<rect class="b" x="131" y="656" width="3" height="2"/>
<rect class="c" x="134" y="670" width="3" height="5"/>
<rect class="m" x="119" y="673" width="3" height="4"/>
<rect class="r" x="124" y="673" width="2" height="2"/>
<rect class="d" x="124" y="677" width="4" height="2"/>
<rect class="m" x="131" y="677" width="3" height="3"/>
<rect class="p" x="119" y="679" width="3" height="1"/>
<rect class="d" x="122" y="679" width="2" height="1"/>
<rect class="b" x="126" y="679" width="2" height="1"/>
<rect class="d" x="128" y="679" width="3" height="3"/>
<rect class="b" x="131" y="679" width="6" height="5"/>
<rect class="d" x="137" y="679" width="3" height="1"/>
<rect class="d" x="143" y="679" width="3" height="3"/>
<rect class="r" x="122" y="682" width="2" height="2"/>
<rect class="d" x="126" y="682" width="2" height="2"/>
<rect class="b" x="128" y="682" width="3" height="2"/>
<rect class="b" x="122" y="684" width="2" height="2"/>
<rect class="b" x="126" y="684" width="2" height="2"/>
<rect class="d" x="128" y="684" width="3" height="2"/>
<rect class="b" x="131" y="684" width="3" height="4"/>
<rect class="b" x="119" y="686" width="3" height="2"/>
<rect class="d" x="122" y="686" width="2" height="2"/>
<rect class="m" x="124" y="686" width="2" height="2"/>
<rect class="b" x="126" y="686" width="2" height="2"/>
<rect class="r" x="122" y="688" width="2" height="2"/>
<rect class="b" x="124" y="688" width="2" height="2"/>
<rect class="d" x="126" y="688" width="2" height="2"/>
<rect class="b" x="128" y="688" width="3" height="4"/>
<rect class="r" x="131" y="688" width="3" height="2"/>
<rect class="b" x="131" y="690" width="3" height="2"/>
<rect class="d" x="137" y="688" width="3" height="4"/>
<rect class="b" x="122" y="690" width="2" height="2"/>
<rect class="m" x="126" y="690" width="2" height="2"/>
<rect class="m" x="116" y="692" width="3" height="1"/>
<rect class="b" x="119" y="692" width="3" height="1"/>
<rect class="m" x="122" y="692" width="4" height="1"/>
<rect class="b" x="124" y="692" width="4" height="3"/>
<rect class="d" x="134" y="692" width="3" height="3"/>
<rect class="d" x="116" y="693" width="3" height="4"/>
<rect class="r" x="112" y="695" width="4" height="2"/>
<rect class="b" x="119" y="695" width="3" height="2"/>
<rect class="p" x="124" y="695" width="2" height="2"/>
<rect class="r" x="128" y="695" width="6" height="2"/>
<rect class="d" x="112" y="697" width="4" height="4"/>
<rect class="p" x="116" y="697" width="3" height="2"/>
<rect class="c" x="119" y="697" width="3" height="2"/>
<rect class="r" x="122" y="697" width="2" height="6"/>
<rect class="d" x="124" y="697" width="2" height="2"/>
<rect class="b" x="126" y="697" width="2" height="2"/>
<rect class="d" x="128" y="697" width="3" height="2"/>
<rect class="m" x="116" y="699" width="3" height="2"/>
<rect class="r" x="124" y="699" width="2" height="2"/>
<rect class="r" x="128" y="699" width="3" height="2"/>
<rect class="d" x="116" y="701" width="3" height="2"/>
<rect class="b" x="119" y="701" width="3" height="2"/>
<rect class="d" x="124" y="701" width="2" height="2"/>
<rect class="p" x="116" y="703" width="3" height="2"/>
<rect class="d" x="119" y="703" width="3" height="3"/>
<rect class="m" x="124" y="703" width="2" height="2"/>
<rect class="r" x="116" y="705" width="3" height="1"/>
<rect class="c" x="116" y="708" width="3" height="2"/>
<rect class="m" x="146" y="695" width="4" height="2"/>
<rect class="d" x="161" y="693" width="3" height="2"/>
<rect class="p" x="161" y="695" width="3" height="2"/>
<rect class="m" x="169" y="693" width="3" height="4"/>
<rect class="b" x="174" y="684" width="3" height="2"/>
<rect class="m" x="177" y="690" width="3" height="2"/>
<rect class="b" x="177" y="692" width="3" height="5"/>
<rect class="b" x="174" y="693" width="3" height="2"/>
<rect class="m" x="174" y="695" width="3" height="2"/>
<rect class="b" x="191" y="695" width="2" height="2"/>
<rect class="m" x="193" y="693" width="3" height="2"/>
<rect class="m" x="199" y="693" width="4" height="4"/>
<rect class="b" x="203" y="693" width="5" height="2"/>
<rect class="m" x="217" y="693" width="5" height="4"/>
<rect class="b" x="232" y="693" width="6" height="4"/>
<rect class="b" x="244" y="693" width="4" height="4"/>
<rect class="d" x="248" y="693" width="4" height="4"/>
<rect class="m" x="252" y="692" width="4" height="5"/>
<rect class="m" x="260" y="693" width="5" height="4"/>
<rect class="m" x="269" y="693" width="4" height="4"/>
<rect class="b" x="277" y="693" width="3" height="4"/>
<rect class="m" x="280" y="693" width="4" height="2"/>
<rect class="b" x="280" y="695" width="4" height="4"/>
<rect class="b" x="284" y="693" width="3" height="4"/>
<rect class="b" x="287" y="695" width="4" height="2"/>
<rect class="b" x="291" y="693" width="3" height="4"/>
<rect class="m" x="294" y="692" width="3" height="1"/>
<rect class="m" x="294" y="699" width="3" height="2"/>
<rect class="d" x="294" y="708" width="3" height="2"/>
<rect class="b" x="304" y="695" width="3" height="2"/>
<rect class="b" x="311" y="695" width="4" height="2"/>
<rect class="p" x="116" y="729" width="3" height="2"/>
<rect class="c" x="116" y="731" width="3" height="1"/>
<rect class="d" x="116" y="732" width="3" height="2"/>
<rect class="c" x="116" y="734" width="3" height="2"/>
<rect class="y" x="116" y="736" width="3" height="2"/>
<rect class="d" x="196" y="589" width="3" height="2"/>
<rect class="m" x="196" y="591" width="3" height="2"/>
<rect class="b" x="196" y="593" width="3" height="2"/>
<rect class="r" x="196" y="595" width="3" height="2"/>
<rect class="b" x="196" y="597" width="3" height="4"/>
<rect class="m" x="196" y="601" width="3" height="1"/>
<rect class="b" x="196" y="602" width="3" height="3"/>
<rect class="b" x="199" y="595" width="1" height="6"/>
<rect class="d" x="199" y="601" width="1" height="3"/>
<rect class="d" x="196" y="606" width="3" height="4"/>
<rect class="b" x="196" y="615" width="3" height="2"/>
<rect class="m" x="199" y="606" width="1" height="2"/>
</g>
<g stroke="#b0b0b0" stroke-width="1.1" fill="none">
<line x1="138.50" y1="100.50" x2="138.50" y2="793.50"/>
<line x1="230.50" y1="100.50" x2="230.50" y2="793.50"/>
<line x1="323.50" y1="100.50" x2="323.50" y2="793.50"/>
<line x1="415.50" y1="100.50" x2="415.50" y2="793.50"/>
<line x1="508.50" y1="100.50" x2="508.50" y2="793.50"/>
<line x1="600.50" y1="100.50" x2="600.50" y2="793.50"/>
<line x1="692.50" y1="100.50" x2="692.50" y2="793.50"/>
<line x1="92.50" y1="669.50" x2="785.50" y2="669.50"/>
<line x1="92.50" y1="545.50" x2="785.50" y2="545.50"/>
<line x1="92.50" y1="421.50" x2="785.50" y2="421.50"/>
<line x1="92.50" y1="298.50" x2="785.50" y2="298.50"/>
<line x1="92.50" y1="174.50" x2="785.50" y2="174.50"/>
</g>
<g stroke="#000" stroke-width="1.1" fill="none">
<line x1="138.50" y1="793.50" x2="138.50" y2="798.50"/>
<line x1="230.50" y1="793.50" x2="230.50" y2="798.50"/>
<line x1="323.50" y1="793.50" x2="323.50" y2="798.50"/>
<line x1="415.50" y1="793.50" x2="415.50" y2="798.50"/>
<line x1="508.50" y1="793.50" x2="508.50" y2="798.50"/>
<line x1="600.50" y1="793.50" x2="600.50" y2="798.50"/>
<line x1="692.50" y1="793.50" x2="692.50" y2="798.50"/>
<line x1="785.50" y1="793.50" x2="785.50" y2="798.50"/>
<line x1="87.50" y1="793.50" x2="92.50" y2="793.50"/>
<line x1="87.50" y1="669.50" x2="92.50" y2="669.50"/>
<line x1="87.50" y1="545.50" x2="92.50" y2="545.50"/>
<line x1="87.50" y1="421.50" x2="92.50" y2="421.50"/>
<line x1="87.50" y1="298.50" x2="92.50" y2="298.50"/>
<line x1="87.50" y1="174.50" x2="92.50" y2="174.50"/>
</g>
<rect x="92.5" y="100.5" width="693" height="693" fill="none" stroke="#000" stroke-width="1.1"/>
<g font-size="16.67">
<text x="133.2" y="814.9">2</text>
<text x="226.1" y="814.9">4</text>
<text x="317.9" y="814.9">6</text>
<text x="409.8" y="814.9">8</text>
<text x="497.9 507.7" y="814.9">10</text>
<text x="589.9 599.9" y="814.9">12</text>
<text x="683.15 692.8" y="814.9">14</text>
<text x="774.9 784.8" y="814.9">16</text>
<text x="82.9" y="798.9" text-anchor="end">0</text>
<text x="81.2" y="674.8" text-anchor="end">200</text>
<text x="82.3" y="551.8" text-anchor="end">400</text>
<text x="81.2" y="427.8" text-anchor="end">600</text>
<text x="81.2" y="303.9" text-anchor="end">800</text>
<text x="81.9" y="179.8" text-anchor="end">1000</text>
</g>
<text x="425.6" y="31.7" font-size="29.17" text-anchor="middle" textLength="549.2" lengthAdjust="spacing">NAL CADI - Oct 16 02:30:00 2023 UTC</text>
<text x="437.9" y="841.9" font-size="24.2" text-anchor="middle" textLength="202" lengthAdjust="spacing">Frequency (MHz)</text>
<text transform="translate(28.2 446.9) rotate(-90)" font-size="24.2" text-anchor="middle" textLength="226" lengthAdjust="spacing">Virtual height (km)</text>
<text transform="translate(943 442.8) rotate(-90)" font-size="24.2" text-anchor="middle" textLength="214.8" lengthAdjust="spacing">Azimuth Direction</text>
<g shape-rendering="crispEdges">
<rect x="816.5" y="82.00" width="30" height="91.00" fill="#00bfff"/>
<rect x="816.5" y="172.00" width="30" height="91.00" fill="#00ffff"/>
<rect x="816.5" y="262.00" width="30" height="91.00" fill="#ffd700"/>
<rect x="816.5" y="352.00" width="30" height="91.00" fill="#ffb6c1"/>
<rect x="816.5" y="442.00" width="30" height="91.00" fill="#ba55d3"/>
<rect x="816.5" y="532.00" width="30" height="91.00" fill="#3a3aff"/>
<rect x="816.5" y="622.00" width="30" height="91.00" fill="#ff0000"/>
<rect x="816.5" y="712.00" width="30" height="91.00" fill="#008000"/>
</g>
<rect x="816.5" y="82.5" width="30" height="720" fill="none" stroke="#000" stroke-width="1.1"/>
<g stroke="#000" fill="none">
<line x1="846.5" y1="82.50" x2="849.8" y2="82.50" stroke-width="0.85"/>
<line x1="846.5" y1="172.50" x2="849.8" y2="172.50" stroke-width="0.85"/>
<line x1="846.5" y1="262.50" x2="849.8" y2="262.50" stroke-width="0.85"/>
<line x1="846.5" y1="352.50" x2="849.8" y2="352.50" stroke-width="0.85"/>
<line x1="846.5" y1="442.50" x2="849.8" y2="442.50" stroke-width="0.85"/>
<line x1="846.5" y1="532.50" x2="849.8" y2="532.50" stroke-width="0.85"/>
<line x1="846.5" y1="622.50" x2="849.8" y2="622.50" stroke-width="0.85"/>
<line x1="846.5" y1="712.50" x2="849.8" y2="712.50" stroke-width="0.85"/>
<line x1="846.5" y1="802.50" x2="849.8" y2="802.50" stroke-width="0.85"/>
<line x1="846.5" y1="127.50" x2="851.9" y2="127.50" stroke-width="1.1"/>
<line x1="846.5" y1="217.50" x2="851.9" y2="217.50" stroke-width="1.1"/>
<line x1="846.5" y1="307.50" x2="851.9" y2="307.50" stroke-width="1.1"/>
<line x1="846.5" y1="397.50" x2="851.9" y2="397.50" stroke-width="1.1"/>
<line x1="846.5" y1="487.50" x2="851.9" y2="487.50" stroke-width="1.1"/>
<line x1="846.5" y1="577.50" x2="851.9" y2="577.50" stroke-width="1.1"/>
<line x1="846.5" y1="667.50" x2="851.9" y2="667.50" stroke-width="1.1"/>
<line x1="846.5" y1="757.50" x2="851.9" y2="757.50" stroke-width="1.1"/>
</g>
<g font-size="16.67">
<text x="856.4" y="133.20" textLength="34.1" lengthAdjust="spacing">NNE</text>
<text x="856" y="223.20">E</text>
<text x="856.4" y="313.20" textLength="30.8" lengthAdjust="spacing">SSE</text>
<text x="856.4" y="403.20" textLength="36.45" lengthAdjust="spacing">SSW</text>
<text x="856.1" y="493.20">W</text>
<text x="856.4" y="583.20" textLength="39.9" lengthAdjust="spacing">NNW</text>
<text x="856.4" y="673.20" textLength="61.05" lengthAdjust="spacing">Vertical</text>
<text x="856.4" y="763.20" textLength="62.2" lengthAdjust="spacing">X-mode</text>
</g>
</svg></body></html>
